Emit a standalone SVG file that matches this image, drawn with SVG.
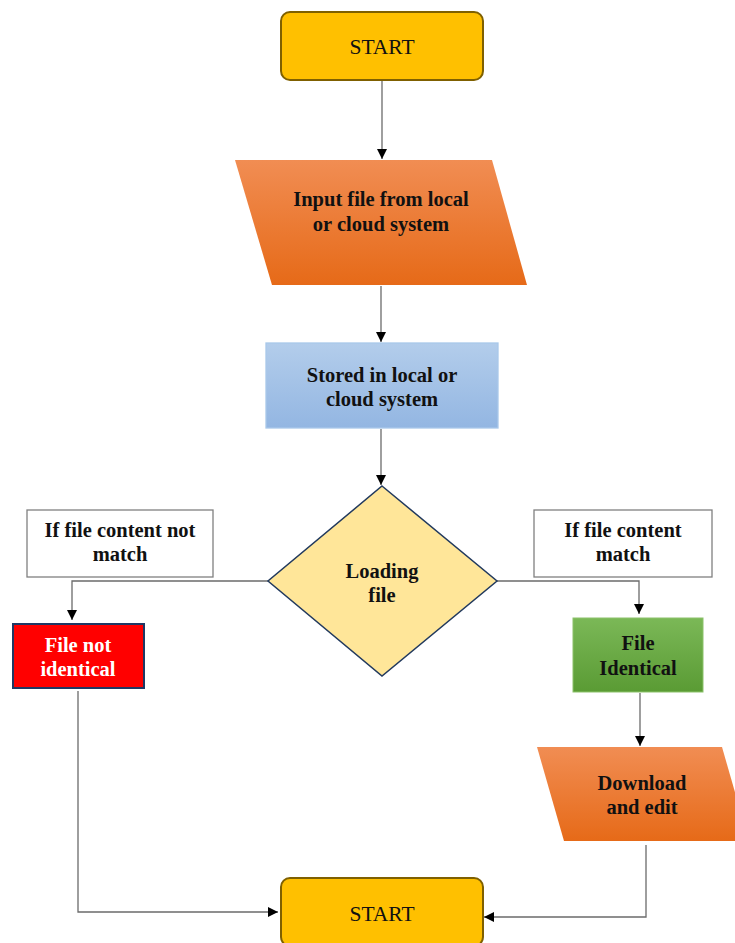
<svg xmlns="http://www.w3.org/2000/svg" width="735" height="943" viewBox="0 0 735 943">
<defs>
<linearGradient id="gOrange" x1="0" y1="0" x2="0" y2="1"><stop offset="0" stop-color="#F18D53"/><stop offset="1" stop-color="#E66A18"/></linearGradient>
<linearGradient id="gBlue" x1="0" y1="0" x2="0" y2="1"><stop offset="0" stop-color="#B3CDEB"/><stop offset="1" stop-color="#93B6E2"/></linearGradient>
<linearGradient id="gGreen" x1="0" y1="0" x2="0" y2="1"><stop offset="0" stop-color="#7BB857"/><stop offset="1" stop-color="#5A9B34"/></linearGradient>
<marker id="arr" viewBox="0 0 10 10" refX="10" refY="5" markerWidth="10" markerHeight="10" markerUnits="userSpaceOnUse" orient="auto"><path d="M0,0 L10,5 L0,10 z" fill="#000"/></marker>
<style>
.t{font-family:"Liberation Serif","Times New Roman",serif;font-size:20.5px;font-weight:bold;text-anchor:middle;fill:#111}
.s{font-family:"Liberation Serif","Times New Roman",serif;font-size:21.5px;text-anchor:middle;fill:#111}
.c{fill:none;stroke:#6b6b6b;stroke-width:1.3;marker-end:url(#arr)}
.term{fill:#FFC000;stroke:#7F6000;stroke-width:2}
.lbl{fill:#fff;stroke:#808080;stroke-width:1.3}
</style>
</defs>
<g id="connectors">
<path class="c" d="M382,80 V159"/>
<path class="c" d="M381,286 V342"/>
<path class="c" d="M381,429 V485"/>
<path class="c" d="M268,581 H72 V620"/>
<path class="c" d="M497,581 H639 V614"/>
<path class="c" d="M640,693 V746"/>
<path class="c" d="M78,691 V912 H278"/>
<path class="c" d="M646,845 V917 H484"/>
</g>
<g id="start"><rect class="term" x="281" y="12" width="202" height="68" rx="9"/><text class="s" x="382" y="54">START</text></g>
<g id="input"><polygon points="235,160 492,160 527,285 272,285" fill="url(#gOrange)"/><text class="t" x="381" y="206">Input file from local</text><text class="t" x="381" y="231">or cloud system</text></g>
<g id="stored"><rect x="266" y="343" width="232" height="85" fill="url(#gBlue)" stroke="#A9C8EA" stroke-width="1.3"/><text class="t" x="382" y="382">Stored in local or</text><text class="t" x="382" y="406">cloud system</text></g>
<g id="loading"><polygon points="382,486 497,581 382,676 268,581" fill="#FFE699" stroke="#223A5E" stroke-width="1.5"/><text class="t" x="382" y="578">Loading</text><text class="t" x="382" y="602">file</text></g>
<g id="label-nomatch"><rect class="lbl" x="27" y="510" width="186" height="67"/><text class="t" x="120" y="537">If file content not</text><text class="t" x="120" y="561">match</text></g>
<g id="label-match"><rect class="lbl" x="534" y="510" width="178" height="67"/><text class="t" x="623" y="537">If file content</text><text class="t" x="623" y="561">match</text></g>
<g id="notidentical"><rect x="13" y="624" width="131" height="64" fill="#FF0000" stroke="#1F3864" stroke-width="2"/><text class="t" x="78" y="652" style="fill:#fff">File not</text><text class="t" x="78" y="676" style="fill:#fff">identical</text></g>
<g id="identical"><rect x="573" y="618" width="130" height="74" fill="url(#gGreen)" stroke="#8CC26B" stroke-width="1"/><text class="t" x="638" y="650">File</text><text class="t" x="638" y="675">Identical</text></g>
<g id="download"><polygon points="537,747 722,747 749,841 564,841" fill="url(#gOrange)"/><text class="t" x="642" y="790">Download</text><text class="t" x="642" y="814">and edit</text></g>
<g id="end"><rect class="term" x="281" y="878" width="202" height="68" rx="9"/><text class="s" x="382" y="921">START</text></g>
</svg>
